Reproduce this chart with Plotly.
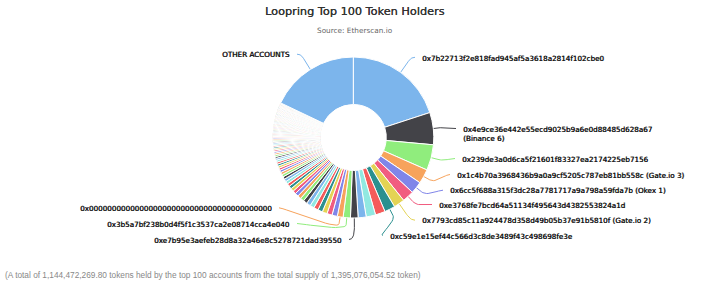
import math
import plotly.graph_objects as go

# ---------------- data ----------------
holder_names = [
    "0x7b22713f2e818fad945af5a3618a2814f102cbe0",
    "0x4e9ce36e442e55ecd9025b9a6e0d88485d628a67 (Binance 6)",
    "0x239de3a0d6ca5f21601f83327ea2174225eb7156",
    "0x1c4b70a3968436b9a0a9cf5205c787eb81bb558c (Gate.io 3)",
    "0x6cc5f688a315f3dc28a7781717a9a798a59fda7b (Okex 1)",
    "0xe3768fe7bcd64a51134f495643d4382553824a1d",
    "0x7793cd85c11a924478d358d49b05b37e91b5810f (Gate.io 2)",
    "0xc59e1e15ef44c566d3c8de3489f43c498698fe3e",
    "Holder #9", "Holder #10", "Holder #11",
    "0xe7b95e3aefeb28d8a32a46e8c5278721dad39550",
    "0x3b5a7bf238b0d4f5f1c3537ca2e08714cca4e040",
    "0x0000000000000000000000000000000000000000",
] + [f"Holder #{k}" for k in range(15, 101)]

# token balances, in millions of LRC
holder_values_m = [
    279.4, 90.3, 72.1, 40.3, 33.7, 32.9, 30.6, 29.8, 27.5, 26.4,
    22.5, 21.3, 20.5, 16.3, 15.0, 14.4, 13.8, 13.2, 12.6, 12.0,
    11.5, 11.0, 10.5, 10.0, 9.6, 9.2, 8.8, 8.5, 8.2, 7.9,
    7.6, 7.3, 7.0, 6.8, 6.5, 6.3, 6.1, 5.9, 5.7, 5.5,
    5.3, 5.1, 4.9, 4.75, 4.6, 4.45, 4.3, 4.15, 4.0, 3.9,
    3.8, 3.7, 3.6, 3.5, 3.4, 3.3, 3.2, 3.1, 3.0, 2.95,
    2.9, 2.85, 2.8, 2.75, 2.7, 2.65, 2.6, 2.55, 2.5, 2.45,
    2.4, 2.36, 2.32, 2.28, 2.24, 2.2, 2.16, 2.12, 2.08, 2.04,
    2.0, 1.97, 1.94, 1.91, 1.88, 1.85, 1.82, 1.79, 1.76, 1.73,
    1.70, 1.68, 1.66, 1.64, 1.62, 1.60, 1.58, 1.56, 1.54, 1.52,
]
other_label = "OTHER ACCOUNTS"
other_value = 250603784.72

title_text = "Loopring Top 100 Token Holders"
subtitle_text = "Source: Etherscan.io"
footer_text = ("(A total of 1,144,472,269.80 tokens held by the top 100 accounts "
               "from the total supply of 1,395,076,054.52 token)")

# slices that carry a data label (index into the pie's slices; 100 = other accounts)
labelled = {
    0: "0x7b22713f2e818fad945af5a3618a2814f102cbe0",
    1: "0x4e9ce36e442e55ecd9025b9a6e0d88485d628a67<br>(Binance 6)",
    2: "0x239de3a0d6ca5f21601f83327ea2174225eb7156",
    3: "0x1c4b70a3968436b9a0a9cf5205c787eb81bb558c (Gate.io 3)",
    4: "0x6cc5f688a315f3dc28a7781717a9a798a59fda7b (Okex 1)",
    5: "0xe3768fe7bcd64a51134f495643d4382553824a1d",
    6: "0x7793cd85c11a924478d358d49b05b37e91b5810f (Gate.io 2)",
    7: "0xc59e1e15ef44c566d3c8de3489f43c498698fe3e",
    11: "0xe7b95e3aefeb28d8a32a46e8c5278721dad39550",
    12: "0x3b5a7bf238b0d4f5f1c3537ca2e08714cca4e040",
    13: "0x0000000000000000000000000000000000000000",
    100: "OTHER ACCOUNTS",
}

# ---------------- layout / style ----------------
W, H = 710, 287
CX, CY, R = 353.3, 137.5, 80.5
HOLE = 0.41
palette = ['#7cb5ec', '#434348', '#90ed7d', '#f7a35c', '#8085e9',
           '#f15c80', '#e4d354', '#2b908f', '#f45b5b', '#91e8e1']
LABEL_FONT = dict(family="DejaVu Sans", size=7.2, color="#111111",
                  shadow="0.4px 0px 0px #111111")

# label placement: index -> (text x, text y, connector y, anchor side)
label_pos = {
    0: (422, 58, 57.3, 'left'),
    1: (463, 134, 128.5, 'left'),
    2: (462, 159, 158.5, 'left'),
    3: (457, 175, 174.5, 'left'),
    4: (450, 190.7, 190.2, 'left'),
    5: (439, 205, 204.5, 'left'),
    6: (422, 220.7, 220.2, 'left'),
    7: (390, 236, 235.5, 'left'),
    11: (342, 240, 239.5, 'right'),
    12: (290, 224, 223.5, 'right'),
    13: (272, 208.3, 207.8, 'right'),
    100: (290, 54.7, 54.2, 'right'),
}

labels = holder_names + [other_label]
values = [v * 1e6 for v in holder_values_m] + [other_value]
colors = [palette[i % len(palette)] for i in range(len(values))]

fig = go.Figure()

fig.add_trace(go.Pie(
    labels=labels,
    values=values,
    sort=False,
    direction="clockwise",
    rotation=0,
    hole=HOLE,
    marker=dict(colors=colors, line=dict(color="#ffffff", width=1)),
    textinfo="none",
    hoverinfo="label+value+percent",
    showlegend=False,
    domain=dict(x=[(CX - R) / W, (CX + R) / W],
                y=[(H - CY - R) / H, (H - CY + R) / H]),
))

# connectors computed from the slice angles
total = sum(values)
cum = 0.0
angles = []
for v in values:
    a0 = 360.0 * cum / total
    cum += v
    a1 = 360.0 * cum / total
    angles.append((a0, a1))


def polar(theta_deg, rad):
    t = math.radians(theta_deg)
    return CX + rad * math.sin(t), CY - rad * math.cos(t)


GAP = 7
annotations = []
for idx, text in labelled.items():
    a0, a1 = angles[idx]
    mid = (a0 + a1) / 2
    ex, ey = polar(mid, R)
    bx, by = polar(mid, R + 7)
    tx, ty, cy, side = label_pos[idx]
    s = 1 if side == 'left' else -1
    p0 = (tx - s * GAP, cy)
    c1 = (p0[0] - s * 5, cy)
    c2 = (2 * bx - ex, 2 * by - ey)
    p3 = (bx, by)
    xs, ys = [], []
    n = 16
    for k in range(n + 1):
        t = k / n
        u = 1 - t
        xs.append(u**3 * p0[0] + 3 * u**2 * t * c1[0] + 3 * u * t**2 * c2[0] + t**3 * p3[0])
        ys.append(u**3 * p0[1] + 3 * u**2 * t * c1[1] + 3 * u * t**2 * c2[1] + t**3 * p3[1])
    xs.append(ex)
    ys.append(ey)
    fig.add_trace(go.Scatter(
        x=xs, y=ys, mode="lines",
        line=dict(color=colors[idx], width=1),
        hoverinfo="skip", showlegend=False,
        xaxis="x", yaxis="y",
    ))
    annotations.append(dict(
        x=tx, y=ty, xref="x", yref="y", text=text, showarrow=False,
        xanchor=side, yanchor="middle", align=side,
        font=LABEL_FONT, borderpad=0, borderwidth=0,
    ))

annotations.append(dict(
    x=355 / W, y=1 - 11 / H, xref="paper", yref="paper", text=title_text,
    showarrow=False, xanchor="center", yanchor="middle",
    font=dict(family="DejaVu Sans", size=11.3, color="#333333",
              shadow="0.2px 0px 0px #333333"),
    borderpad=0,
))
annotations.append(dict(
    x=355 / W, y=1 - 30 / H, xref="paper", yref="paper", text=subtitle_text,
    showarrow=False, xanchor="center", yanchor="middle",
    font=dict(family="DejaVu Sans", size=7.3, color="#666666"),
    borderpad=0,
))
annotations.append(dict(
    x=4 / W, y=1 - 275 / H, xref="paper", yref="paper", text=footer_text,
    showarrow=False, xanchor="left", yanchor="middle",
    font=dict(family="Liberation Sans", size=8.3, color="#888888"),
    borderpad=0,
))

fig.update_layout(
    width=W, height=H,
    margin=dict(l=0, r=0, t=0, b=0),
    paper_bgcolor="#ffffff",
    plot_bgcolor="rgba(0,0,0,0)",
    xaxis=dict(range=[0, W], visible=False, fixedrange=True, domain=[0, 1]),
    yaxis=dict(range=[H, 0], visible=False, fixedrange=True, domain=[0, 1]),
    annotations=annotations,
    showlegend=False,
)

fig.write_html("out.html")
